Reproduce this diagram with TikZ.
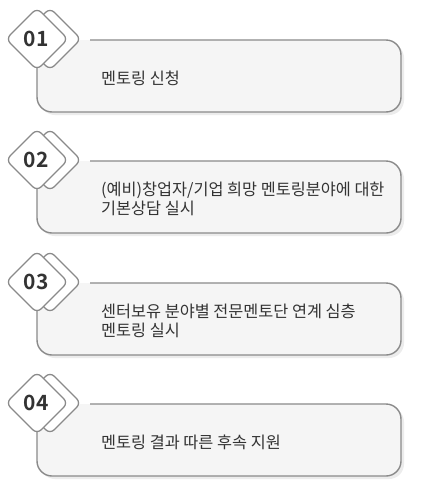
\documentclass[tikz,border=0pt]{standalone}
\usepackage{fontspec}
\setmainfont{Noto Sans CJK KR}
\newfontfamily\numfont{Noto Sans CJK KR}[BoldFont={Noto Sans CJK KR Bold}]
\definecolor{edgec}{HTML}{8A8A8A}
\definecolor{fillc}{HTML}{F5F5F5}
\definecolor{shadc}{HTML}{ECECEC}
\definecolor{txtc}{HTML}{333333}
\tikzset{
  boxline/.style={draw=edgec, line width=1.4pt, rounded corners=15pt},
  boxfill/.style={fill=fillc, rounded corners=15pt},
  boxshadow/.style={fill=shadc, rounded corners=15pt},
  dia/.style={draw=edgec, fill=white, line width=1.3pt, rounded corners=6pt},
  numtxt/.style={text=txtc, font=\numfont\bfseries\fontsize{21}{21}\selectfont, inner sep=0pt},
  bodytxt/.style={text=txtc, font=\fontsize{16.3}{19}\selectfont, align=left, inner sep=0pt, anchor=west},
}
\newcommand\mentorstep[4]{%
  \fill[boxshadow] (40,#1+3) rectangle (404,#1+75);
  \fill[boxfill] (37,#1) rectangle (401,#1+72);
  \draw[boxline] (90,#1) -- (401,#1) -- (401,#1+72) -- (37,#1+72) -- (37,#1+26);
  \draw[dia] (50,#1-32) -- (81,#1-1) -- (50,#1+30) -- (19,#1-1) -- cycle;
  \draw[dia] (37,#1-32) -- (68,#1-1) -- (37,#1+30) -- (6,#1-1) -- cycle;
  \node[numtxt] (num#4) at (36,#1-1) {#2};
  \node[bodytxt] (text#4) at (101,#1+38) {#3};
}
\begin{document}
\begin{tikzpicture}[x=1pt,y=-1pt]
\useasboundingbox[fill=white] (0,0) rectangle (424,493);
\mentorstep{40}{01}{멘토링 신청}{a}
\mentorstep{161}{02}{(예비)창업자/기업 희망 멘토링분야에 대한\\기본상담 실시}{b}
\mentorstep{283}{03}{센터보유 분야별 전문멘토단 연계 심층\\멘토링 실시}{c}
\mentorstep{404}{04}{멘토링 결과 따른 후속 지원}{d}
\end{tikzpicture}
\end{document}
